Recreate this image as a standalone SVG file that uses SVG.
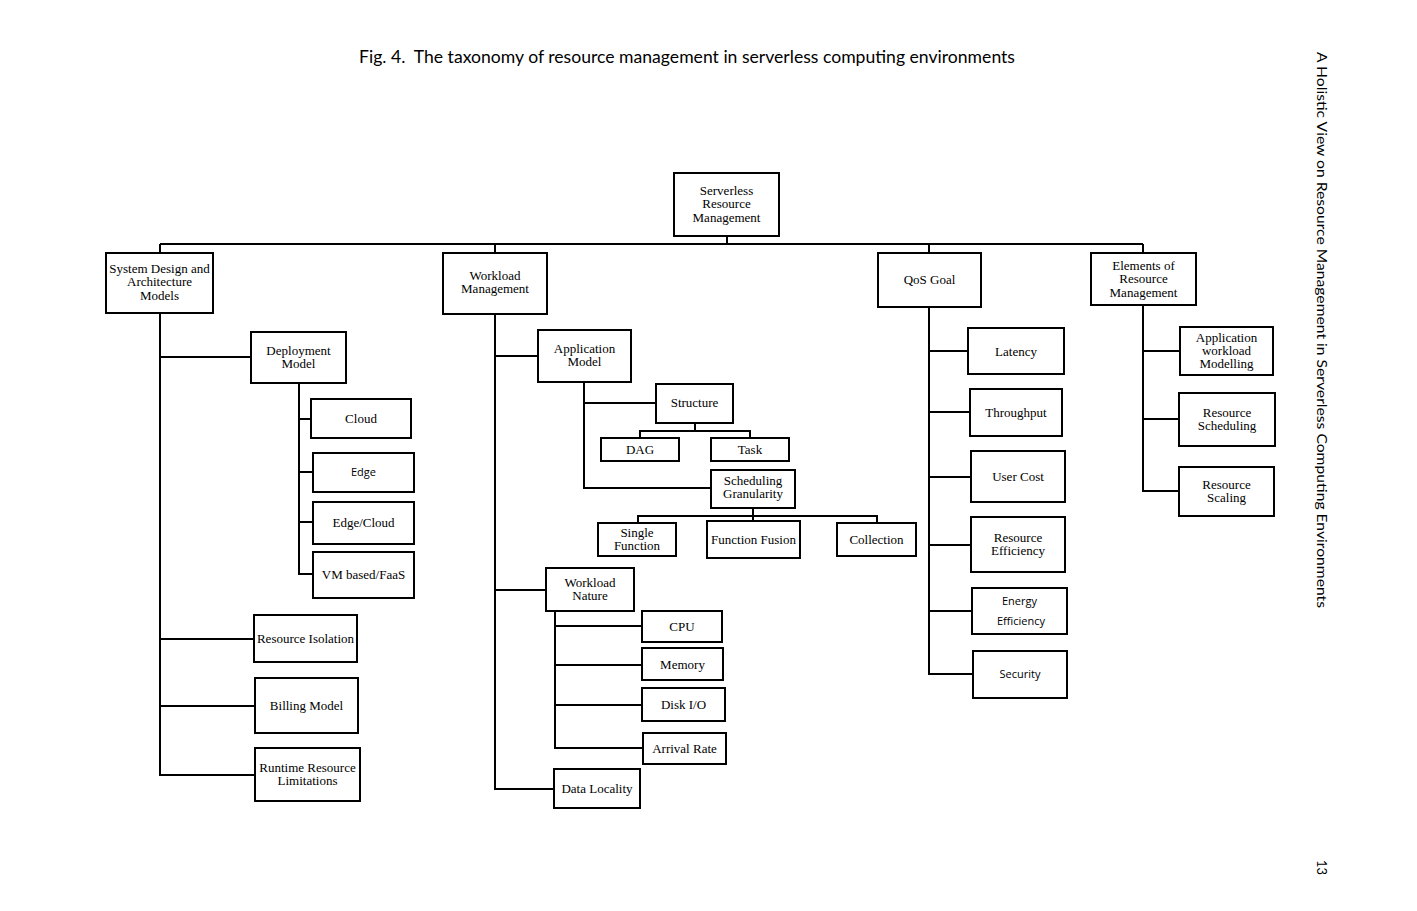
<svg xmlns="http://www.w3.org/2000/svg" width="1417" height="911" viewBox="0 0 1417 911">
<style>
.box{fill:#fff;stroke:#000;stroke-width:2}
.t{font-family:"Liberation Serif","Times New Roman",serif;font-size:13px;text-anchor:middle;fill:#000}
.s{font-family:"Open Sans","Liberation Sans",sans-serif;font-size:11px;text-anchor:middle;fill:#000}
.c path{fill:none;stroke:#000;stroke-width:2}
.h{font-family:"Lato","Liberation Sans",sans-serif;fill:#000}
</style>
<rect width="1417" height="911" fill="#fff"/>
<text class="h" x="359" y="63" font-size="17" xml:space="preserve" textLength="656" lengthAdjust="spacingAndGlyphs">Fig. 4.  The taxonomy of resource management in serverless computing environments</text>
<text class="h" transform="translate(1317,52) rotate(90)" font-size="14" textLength="556" lengthAdjust="spacingAndGlyphs">A Holistic View on Resource Management in Serverless Computing Environments</text>
<text class="h" transform="translate(1317,860) rotate(90)" font-size="13">13</text>
<g class="c" id="connectors">
<path d="M727 236V244M160 244H1143M160 244V253M495 244V253M929 244V253M1143 244V253"/>
<path d="M160 313V775H255M160 357H251M160 639H254M160 706H255"/>
<path d="M299 383V574H313M299 419H311M299 472H313M299 522H313"/>
<path d="M495 314V789H554M495 356H538M495 590H546"/>
<path d="M584 382V488H711M584 403H656"/>
<path d="M695 423V431M640 438V431H750V438"/>
<path d="M753 508V521M638 523V516H877V523"/>
<path d="M555 611V748H643M555 626H642M555 665H642M555 705H642"/>
<path d="M929 307V674H973M929 351H968M929 412H970M929 477H971M929 545H971M929 611H972"/>
<path d="M1143 305V491H1179M1143 351H1180M1143 419H1179"/>
</g>
<g id="root"><rect class="box" x="674" y="173" width="105" height="63"/><text class="t" x="726.5" y="195">Serverless</text><text class="t" x="726.5" y="208">Resource</text><text class="t" x="726.5" y="222">Management</text></g>
<g id="sysdesign"><rect class="box" x="106" y="253" width="107" height="60"/><text class="t" x="159.5" y="273">System Design and</text><text class="t" x="159.5" y="286">Architecture</text><text class="t" x="159.5" y="300">Models</text></g>
<g id="workload"><rect class="box" x="443" y="253" width="104" height="61"/><text class="t" x="495" y="280">Workload</text><text class="t" x="495" y="293">Management</text></g>
<g id="qos"><rect class="box" x="878" y="253" width="103" height="54"/><text class="t" x="929.5" y="284">QoS Goal</text></g>
<g id="elements"><rect class="box" x="1091" y="253" width="105" height="52"/><text class="t" x="1143.5" y="270">Elements of</text><text class="t" x="1143.5" y="283">Resource</text><text class="t" x="1143.5" y="297">Management</text></g>
<g id="deployment"><rect class="box" x="251" y="332" width="95" height="51"/><text class="t" x="298.5" y="355">Deployment</text><text class="t" x="298.5" y="368">Model</text></g>
<g id="cloud"><rect class="box" x="311" y="399" width="100" height="39"/><text class="t" x="361" y="423">Cloud</text></g>
<g id="edge"><rect class="box" x="313" y="453" width="101" height="39"/><text class="s" x="363.5" y="476">Edge</text></g>
<g id="edgecloud"><rect class="box" x="313" y="502" width="101" height="42"/><text class="t" x="363.5" y="527">Edge/Cloud</text></g>
<g id="vmfaas"><rect class="box" x="313" y="552" width="101" height="46"/><text class="t" x="363.5" y="579">VM based/FaaS</text></g>
<g id="isolation"><rect class="box" x="254" y="615" width="103" height="47"/><text class="t" x="305.5" y="643">Resource Isolation</text></g>
<g id="billing"><rect class="box" x="255" y="678" width="103" height="55"/><text class="t" x="306.5" y="710">Billing Model</text></g>
<g id="runtime"><rect class="box" x="255" y="748" width="105" height="53"/><text class="t" x="307.5" y="772">Runtime Resource</text><text class="t" x="307.5" y="785">Limitations</text></g>
<g id="appmodel"><rect class="box" x="538" y="330" width="93" height="52"/><text class="t" x="584.5" y="353">Application</text><text class="t" x="584.5" y="366">Model</text></g>
<g id="structure"><rect class="box" x="656" y="384" width="77" height="39"/><text class="t" x="694.5" y="407">Structure</text></g>
<g id="dag"><rect class="box" x="601" y="438" width="78" height="23"/><text class="t" x="640" y="454">DAG</text></g>
<g id="task"><rect class="box" x="711" y="438" width="78" height="23"/><text class="t" x="750" y="454">Task</text></g>
<g id="schedgran"><rect class="box" x="711" y="470" width="84" height="38"/><text class="t" x="753" y="485">Scheduling</text><text class="t" x="753" y="498">Granularity</text></g>
<g id="single"><rect class="box" x="598" y="523" width="78" height="33"/><text class="t" x="637" y="537">Single</text><text class="t" x="637" y="550">Function</text></g>
<g id="fusion"><rect class="box" x="707" y="521" width="93" height="37"/><text class="t" x="753.5" y="544">Function Fusion</text></g>
<g id="collection"><rect class="box" x="837" y="523" width="79" height="33"/><text class="t" x="876.5" y="544">Collection</text></g>
<g id="wnature"><rect class="box" x="546" y="568" width="88" height="43"/><text class="t" x="590" y="587">Workload</text><text class="t" x="590" y="600">Nature</text></g>
<g id="cpu"><rect class="box" x="642" y="611" width="80" height="31"/><text class="t" x="682" y="631">CPU</text></g>
<g id="memory"><rect class="box" x="642" y="648" width="81" height="32"/><text class="t" x="682.5" y="669">Memory</text></g>
<g id="disk"><rect class="box" x="642" y="688" width="83" height="33"/><text class="t" x="683.5" y="709">Disk I/O</text></g>
<g id="arrival"><rect class="box" x="643" y="733" width="83" height="31"/><text class="t" x="684.5" y="753">Arrival Rate</text></g>
<g id="locality"><rect class="box" x="554" y="769" width="86" height="39"/><text class="t" x="597" y="793">Data Locality</text></g>
<g id="latency"><rect class="box" x="968" y="328" width="96" height="46"/><text class="t" x="1016" y="356">Latency</text></g>
<g id="throughput"><rect class="box" x="970" y="389" width="92" height="47"/><text class="t" x="1016" y="417">Throughput</text></g>
<g id="usercost"><rect class="box" x="971" y="451" width="94" height="51"/><text class="t" x="1018" y="481">User Cost</text></g>
<g id="reseff"><rect class="box" x="971" y="517" width="94" height="55"/><text class="t" x="1018" y="542">Resource</text><text class="t" x="1018" y="555">Efficiency</text></g>
<g id="energy"><rect class="box" x="972" y="588" width="95" height="46"/><text class="s" x="1019.5" y="605">Energy</text><text class="s" x="1021" y="625">Efficiency</text></g>
<g id="security"><rect class="box" x="973" y="651" width="94" height="47"/><text class="s" x="1020" y="678">Security</text></g>
<g id="appworkload"><rect class="box" x="1180" y="327" width="93" height="48"/><text class="t" x="1226.5" y="342">Application</text><text class="t" x="1226.5" y="355">workload</text><text class="t" x="1226.5" y="368">Modelling</text></g>
<g id="ressched"><rect class="box" x="1179" y="393" width="96" height="53"/><text class="t" x="1227" y="417">Resource</text><text class="t" x="1227" y="430">Scheduling</text></g>
<g id="resscaling"><rect class="box" x="1179" y="467" width="95" height="49"/><text class="t" x="1226.5" y="489">Resource</text><text class="t" x="1226.5" y="502">Scaling</text></g>
</svg>
